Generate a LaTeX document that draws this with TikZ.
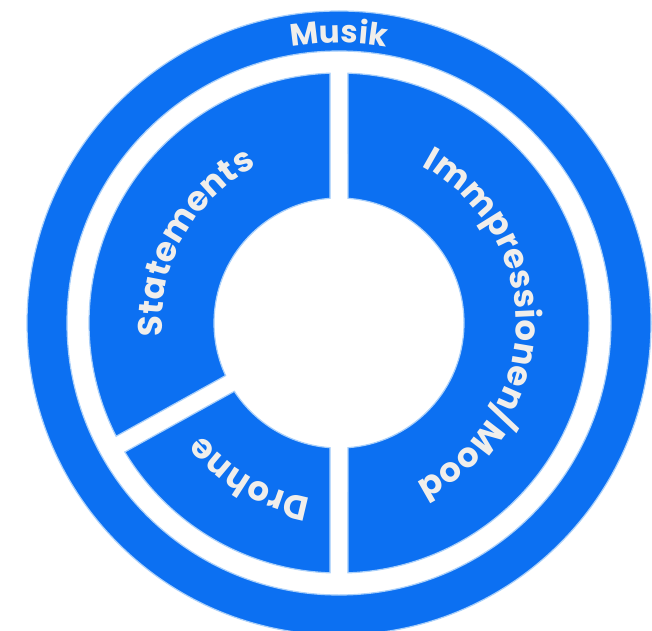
\documentclass[tikz,border=0pt]{standalone}
\usepackage{fontspec}
\newfontfamily\labelfont{Poppins}
\usetikzlibrary{decorations.text}
\definecolor{ringblue}{RGB}{12,112,242}
\definecolor{rimblue}{RGB}{170,208,250}
\definecolor{labelgrey}{RGB}{240,238,235}
\tikzset{
  ring/.style={fill=ringblue,draw=rimblue,line width=1.2pt},
  arclabel/.style 2 args={decorate,decoration={text along path,text align=center,
    text color=labelgrey,text={|\labelfont\bfseries\fontsize{#1}{#1}\selectfont|#2}}}
}
\begin{document}
\begin{tikzpicture}
      \useasboundingbox[fill=white] (0,0) rectangle (652pt,630pt);
      \def \Sectors{
        -90/90,
        90/209,
        209/270}
      \begin{scope}[shift={(339pt,307pt)}]
      \path[ring,even odd rule] (0,0) circle[radius=312pt] (0,0) circle[radius=272pt];
      \foreach \a / \b in \Sectors{
        \path[ring] ({\a+2.06}:250pt) arc[start angle=\a+2.06, end angle=\b-2.06, radius=250pt]
          -- ({\b-4.13}:125pt) arc[start angle=\b-4.13, end angle=\a+4.13, radius=125pt] -- cycle;
      }
      \path[arclabel={31pt}{Musik}] (118:280pt) arc[start angle=118, end angle=62, radius=280pt];
      \path[arclabel={34pt}{Statements}] (211:177pt) arc[start angle=211, end angle=91, radius=177pt];
      \path[arclabel={34pt}{Drohne}] (270:177pt) arc[start angle=270, end angle=210, radius=177pt];
      \path[arclabel={34pt}{Immpressionen/Mood}] (89:177pt) arc[start angle=89, end angle=-91, radius=177pt];
      \end{scope}
    \end{tikzpicture}
\end{document}
